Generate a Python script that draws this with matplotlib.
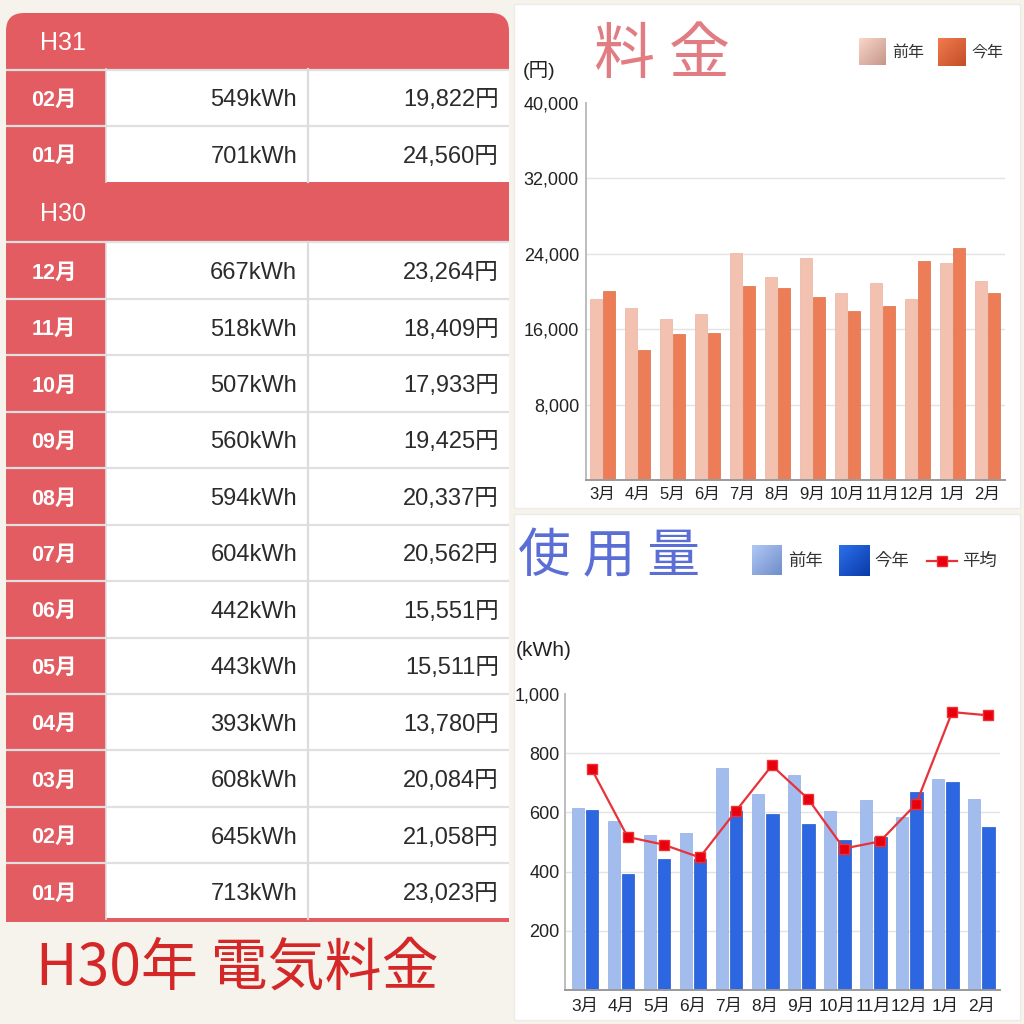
import numpy as np
import matplotlib
matplotlib.use("Agg")
import matplotlib.pyplot as plt
from matplotlib.patches import Rectangle, FancyBboxPatch
from matplotlib.ticker import FuncFormatter

plt.rcParams['font.family'] = ['Liberation Sans', 'Noto Sans CJK JP', 'DejaVu Sans']
JP = ['Noto Sans CJK JP', 'DejaVu Sans']
TB = ['Liberation Sans', 'Noto Sans CJK JP', 'DejaVu Sans']

# ---------------- data ----------------
year_labels = ["H31", "H30"]
h31_months = ["02月", "01月"]
h31_kwh = [549, 701]
h31_yen = [19822, 24560]
h30_months = ["12月", "11月", "10月", "09月", "08月", "07月",
              "06月", "05月", "04月", "03月", "02月", "01月"]
h30_kwh = [667, 518, 507, 560, 594, 604, 442, 443, 393, 608, 645, 713]
h30_yen = [23264, 18409, 17933, 19425, 20337, 20562,
           15551, 15511, 13780, 20084, 21058, 23023]

months = ["3月", "4月", "5月", "6月", "7月", "8月",
          "9月", "10月", "11月", "12月", "1月", "2月"]
fee_prev = [19150, 18200, 17100, 17600, 24100, 21550,
            23500, 19800, 20850, 19150, 23023, 21058]
fee_curr = [20084, 13780, 15511, 15551, 20562, 20337,
            19425, 17933, 18409, 23264, 24560, 19822]
use_prev = [615, 570, 522, 530, 749, 663, 727, 603, 642, 584, 713, 645]
use_curr = [608, 393, 443, 442, 604, 594, 560, 507, 518, 667, 701, 549]
use_avg = [746, 517, 491, 448, 604, 758, 646, 478, 502, 628, 938, 927]

fee_ticks = [8000, 16000, 24000, 32000, 40000]
use_ticks = [200, 400, 600, 800, 1000]
legend_labels = ["前年", "今年", "平均"]

# ---------------- colours ----------------
paper = "#f5f3ec"
tbl_red = "#e35c62"
fee_prev_c = "#f3c1af"
fee_curr_c = "#ec7d56"
use_prev_c = "#a2bcee"
use_curr_c = "#2c66e0"
avg_c = "#e8323a"

fig = plt.figure(figsize=(10.24, 10.24), dpi=100)
fig.patch.set_facecolor(paper)

bg = fig.add_axes([0, 0, 1, 1])
bg.set_xlim(0, 1024)
bg.set_ylim(1024, 0)
bg.axis('off')

# white panels behind the charts
bg.add_patch(Rectangle((514, 4), 506, 504, facecolor="white", edgecolor="#ecebe4", lw=1))
bg.add_patch(Rectangle((514, 514), 506, 506, facecolor="white", edgecolor="#ecebe4", lw=1))

# ---------------- table ----------------
L, M1, M2, R = 6, 105.5, 307.5, 509
row_h = 56.45
header_h = [56, 60]
sections = [(year_labels[0], h31_months, h31_kwh, h31_yen),
            (year_labels[1], h30_months, h30_kwh, h30_yen)]
y = 13
for si, (yl, ms, kw, yen) in enumerate(sections):
    hh = header_h[si]
    if si == 0:
        bg.add_patch(FancyBboxPatch((L, y), R - L, hh - 10,
                                    boxstyle="round,pad=0,rounding_size=18",
                                    facecolor=tbl_red, edgecolor="none"))
        bg.add_patch(Rectangle((L, y + 25), R - L, hh - 25, facecolor=tbl_red, edgecolor="none"))
    else:
        bg.add_patch(Rectangle((L, y), R - L, hh, facecolor=tbl_red, edgecolor="none"))
    bg.text(40, y + hh / 2 + 2, yl, color="white", fontsize=18, ha="left", va="center",
            family=TB)
    y += hh
    for m, k, v in zip(ms, kw, yen):
        bg.add_patch(Rectangle((L, y), R - L, row_h, facecolor="white", edgecolor="none"))
        bg.add_patch(Rectangle((L, y), M1 - L, row_h, facecolor=tbl_red, edgecolor="none"))
        bg.plot([L, R], [y + 0.5, y + 0.5], color="#e0e0e0", lw=1.6, solid_capstyle="butt")
        bg.plot([M1 + 0.5, M1 + 0.5], [y, y + row_h], color="#e0e0e0", lw=1.2)
        bg.plot([M2, M2], [y, y + row_h], color="#dcdcdc", lw=1.6)
        cy = y + row_h / 2 + 3
        bg.text(54, cy, m, color="white", fontsize=15.5, ha="center", va="center",
                family=TB, weight="bold")
        bg.text(297, cy, f"{k}kWh", color="#2b2b2b", fontsize=17, ha="right", va="center",
                family=TB)
        bg.text(499, cy, f"{v:,}円", color="#2b2b2b", fontsize=17, ha="right", va="center",
                family=TB)
        y += row_h
bg.add_patch(Rectangle((L, y - 1), R - L, 4, facecolor=tbl_red, edgecolor="none"))

# ---------------- hand-written titles ----------------
bg.text(594, 56, "料 金", color="#e27c83", fontsize=44, ha="left", va="center", family=JP)
bg.text(518, 557, "使 用 量", color="#5a6ed6", fontsize=38, ha="left", va="center", family=JP)
bg.text(36, 968, "H30年 電気料金", color="#d42828", fontsize=41, ha="left", va="center",
        family=JP)


def swatch(x0, y0, s, c1, c2):
    c1 = np.array(matplotlib.colors.to_rgb(c1))
    c2 = np.array(matplotlib.colors.to_rgb(c2))
    g = np.linspace(0, 1, 32)
    t = (g[:, None] + g[None, :]) / 2
    img = c1[None, None, :] * (1 - t[..., None]) + c2[None, None, :] * t[..., None]
    bg.imshow(img, extent=(x0, x0 + s, y0 + s, y0), origin="upper", interpolation="bilinear",
              zorder=3)


# legends
swatch(859, 38, 27, "#f9d6c8", "#c4978a")
bg.text(892, 52, legend_labels[0], fontsize=11.5, ha="left", va="center", color="#333")
swatch(938, 38, 28, "#f27a4c", "#c24e2a")
bg.text(971, 52, legend_labels[1], fontsize=11.5, ha="left", va="center", color="#333")

swatch(752, 545, 30, "#b0c8f6", "#6f8dc8")
bg.text(788, 561, legend_labels[0], fontsize=12.5, ha="left", va="center", color="#333")
swatch(839, 545, 31, "#2c70ec", "#0a3aa8")
bg.text(874, 561, legend_labels[1], fontsize=12.5, ha="left", va="center", color="#333")
bg.plot([927, 957], [561, 561], color=avg_c, lw=1.6)
bg.plot([942], [561], marker="s", markersize=7.5, color="#e8000f", mec="#f03030")
bg.text(962, 561, legend_labels[2], fontsize=12.5, ha="left", va="center", color="#333")

# axis unit labels
bg.text(523, 70, "(円)", fontsize=14, ha="left", va="center", color="#222")
bg.text(516, 651, "(kWh)", fontsize=15, ha="left", va="center", color="#222")

bg.set_xlim(0, 1024)
bg.set_ylim(1024, 0)

fmt = FuncFormatter(lambda v, p: f"{int(v):,}")


def style(ax, ticks, top, labsize, ypad, xpad):
    ax.set_facecolor("none")
    ax.set_ylim(0, top)
    ax.set_yticks(ticks)
    ax.yaxis.set_major_formatter(fmt)
    ax.set_xticks(np.arange(len(months)))
    ax.set_xticklabels(months)
    ax.grid(axis="y", color="#e3e3e3", lw=1.0)
    ax.set_axisbelow(True)
    ax.get_ygridlines()[-1].set_visible(False)
    for s in ("top", "right"):
        ax.spines[s].set_visible(False)
    ax.spines["left"].set_color("#bdbdbd")
    ax.spines["left"].set_linewidth(1.4)
    ax.spines["bottom"].set_color("#9a9a9a")
    ax.spines["bottom"].set_linewidth(1.4)
    ax.tick_params(axis="y", length=0, labelsize=13, pad=ypad, colors="#222")
    ax.tick_params(axis="x", length=0, labelsize=labsize, pad=xpad, colors="#222")


x = np.arange(len(months))

# fee chart
ax1 = fig.add_axes([586 / 1024, 1 - 480 / 1024, (1005 - 586) / 1024, (480 - 102.7) / 1024])
ax1.bar(x - 0.18, fee_prev, 0.35, color=fee_prev_c, edgecolor="#e9b3a1", lw=0.5)
ax1.bar(x + 0.18, fee_curr, 0.35, color=fee_curr_c, edgecolor="#dc6e48", lw=0.5)
ax1.set_xlim(-0.47, 11.5)
style(ax1, fee_ticks, 40000, 12, 5, 5)

# usage chart
ax2 = fig.add_axes([565.3 / 1024, 1 - 990.3 / 1024, (999.7 - 565.3) / 1024,
                    (990.3 - 693.7) / 1024])
ax2.bar(x - 0.2, use_prev, 0.33, color=use_prev_c, edgecolor="#94aee2", lw=0.5)
ax2.bar(x + 0.2, use_curr, 0.35, color=use_curr_c, edgecolor="#2458cc", lw=0.5)
ax2.plot(x + 0.19, use_avg, color=avg_c, lw=1.6, marker="s", markersize=7.5,
         markerfacecolor="#e8000f", markeredgecolor="#f03030", zorder=5)
ax2.set_xlim(-0.54, 11.51)
style(ax2, use_ticks, 1000, 12.5, 4, 6)

fig.savefig("out.png", dpi=100, facecolor=paper)
